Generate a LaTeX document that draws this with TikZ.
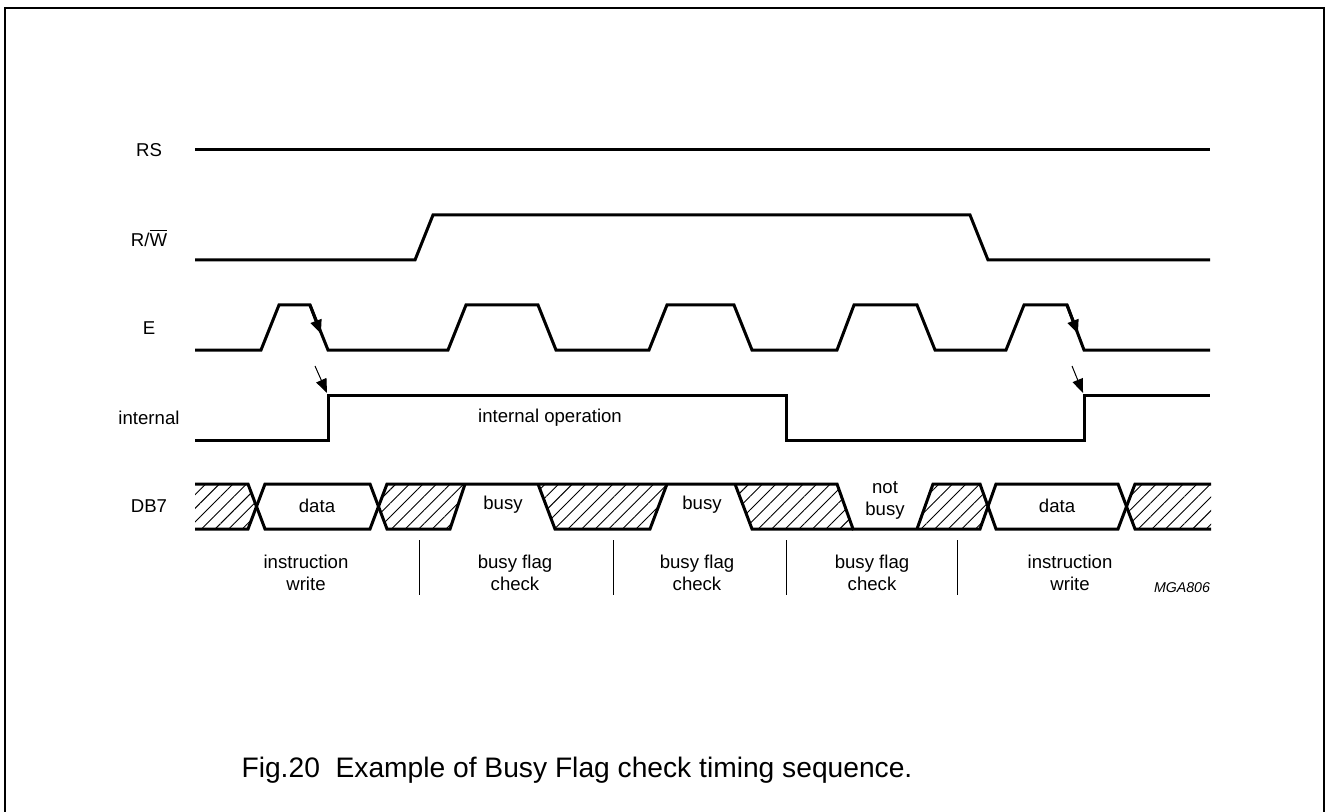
\documentclass[tikz,border=0pt]{standalone}
\usepackage{fontspec}
\setmainfont{Liberation Sans}
\usepackage{tikz}
\usetikzlibrary{arrows.meta,patterns.meta}
\tikzset{
	sig/.style={line width=1.5pt,line join=miter},
	thin/.style={line width=0.5pt},
	hatch/.style={pattern={Lines[angle=45,distance=4.8pt,line width=0.45pt]}},
	every node/.style={inner sep=1pt,font=\fontsize{9.3}{11}\selectfont,align=center},
	directed/.style={arrows={-Stealth[length=7pt,width=5.5pt,inset=0pt]}},
	caption/.style={font=\fontsize{14.1}{17}\selectfont}
	}
\begin{document}
\begin{tikzpicture}[x=0.5pt,y=-0.5pt]
	\useasboundingbox (0,0) rectangle (1326,812);
	\draw[line width=1pt] (4.5,812) -- (4.5,8) -- (1324,8) -- (1324,812);

	\node (rs) at (149,150) {RS};
	\node (rw) at (149,238) {R/$\overline{\mbox{W}}$};
	\node (e) at (149,328) {E};
	\node (int) at (149,418) {internal};
	\node (db) at (149,506) {DB7};

	\draw[sig] (195,150) -- (1210,150);
	\draw[sig] (195,260) -- (415,260) -- (433,215) -- (970,215) -- (988,260) -- (1210,260);
	\draw[sig] (195,350) \foreach \a/\b/\c/\d in {261/279/310/328, 448/466/538/556, 649/667/734/752, 837/854/917/935, 1006/1024/1067/1084}
		{ -- (\a,350) -- (\b,305) -- (\c,305) -- (\d,350) } -- (1210,350);
	\draw[sig] (195,440) -- (328,440) -- (328,395) -- (786,395) -- (786,440) -- (1084,440) -- (1084,395) -- (1210,395);

	\coordinate (fall1) at (310,305);
	\coordinate (fall1m) at (321,334);
	\coordinate (fall5) at (1067,305);
	\coordinate (fall5m) at (1078,334);
	\draw[sig,directed] (fall1) -- (fall1m);
	\draw[sig,directed] (fall5) -- (fall5m);
	\coordinate (cause1) at (315,366);
	\coordinate (rise1) at (327,393);
	\coordinate (cause2) at (1072,366);
	\coordinate (rise2) at (1083,393);
	\draw[thin,directed] (cause1) -- (rise1);
	\draw[thin,directed] (cause2) -- (rise2);

	\node (op) at (550,418) {internal operation};

	\fill[hatch] (195,484) -- (248,484) -- (256.5,506.5) -- (248,529) -- (195,529) -- cycle;
	\fill[hatch] (378.5,506.5) -- (387,484) -- (465,484) -- (450,529) -- (387,529) -- cycle;
	\fill[hatch] (538,484) -- (667,484) -- (650,529) -- (555,529) -- cycle;
	\fill[hatch] (735,484) -- (837,484) -- (853,529) -- (752,529) -- cycle;
	\fill[hatch] (933,484) -- (980,484) -- (988,506.5) -- (980,529) -- (917,529) -- cycle;
	\fill[hatch] (1126.5,506.5) -- (1135,484) -- (1211,484) -- (1211,529) -- (1135,529) -- cycle;

	\draw[sig] (195,484) -- (248,484) -- (265,529) -- (370,529) -- (387,484) -- (837,484) -- (853,529) -- (980,529) -- (996,484) -- (1118,484) -- (1135,529) -- (1211,529);
	\draw[sig] (195,529) -- (248,529) -- (265,484) -- (370,484) -- (387,529) -- (450,529) -- (465,484);
	\draw[sig] (538,484) -- (555,529) -- (650,529) -- (667,484);
	\draw[sig] (735,484) -- (752,529) -- (853,529);
	\draw[sig] (917,529) -- (933,484) -- (980,484) -- (996,529) -- (1118,529) -- (1135,484) -- (1211,484);

	\node (data1) at (317,506) {data};
	\node (busy1) at (503,505) {busy};
	\node (busy2) at (702,505) {busy};
	\node (notbusy) at (885,500) {not\\busy};
	\node (data2) at (1057,506) {data};

	\foreach \x in {419,613,786,957}
		\draw[thin] (\x,540) -- (\x,595);

	\node (iw1) at (306,573) {instruction\\write};
	\node (bf1) at (515,573) {busy flag\\check};
	\node (bf2) at (697,573) {busy flag\\check};
	\node (bf3) at (872,573) {busy flag\\check};
	\node (iw2) at (1070,573) {instruction\\write};
	\node[font=\fontsize{7.1}{8}\selectfont\itshape] (code) at (1182,588) {MGA806};

	\node[caption] (cap) at (577,770) {Fig.20\ \ Example of Busy Flag check timing sequence.};
\end{tikzpicture}
\end{document}
